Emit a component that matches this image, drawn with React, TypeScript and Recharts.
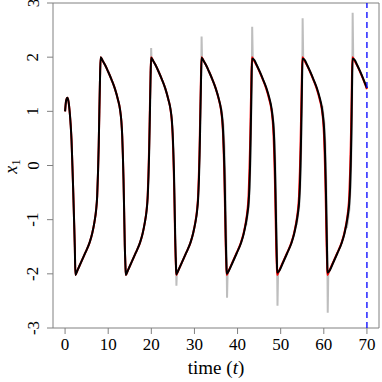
import React from "react";
import {
  ComposedChart,
  Line,
  XAxis,
  YAxis,
  Label,
  ReferenceArea,
  ReferenceLine,
} from "recharts";

// time grid (shared by the true path and the filter mean)
const time = [
  // start-up
  0, 0.25, 0.55, 0.8, 1.1, 1.3, 1.5, 1.7, 1.9, 2.1, 2.26, 2.4,
  // rise 1
  2.9, 3.7, 4.7, 5.7, 6.3, 6.8, 7.2, 7.45, 7.65, 7.8, 7.95, 8.1, 8.25,
  // fall 1
  8.75, 9.25, 9.95, 10.75, 11.55, 12.25, 12.75, 13.05, 13.25, 13.4, 13.55, 13.7, 13.85, 14.0, 14.1,
  // rise 2
  14.6, 15.4, 16.4, 17.4, 18.0, 18.5, 18.9, 19.15, 19.35, 19.5, 19.65, 19.8, 19.95,
  // fall 2
  20.45, 20.95, 21.65, 22.45, 23.25, 23.95, 24.45, 24.75, 24.95, 25.1, 25.25, 25.4, 25.55, 25.7, 25.8,
  // rise 3
  26.3, 27.1, 28.1, 29.1, 29.7, 30.2, 30.6, 30.85, 31.05, 31.2, 31.35, 31.5, 31.65,
  // fall 3
  32.15, 32.65, 33.35, 34.15, 34.95, 35.65, 36.15, 36.45, 36.65, 36.8, 36.95, 37.1, 37.25, 37.4, 37.5,
  // rise 4
  38.0, 38.8, 39.8, 40.8, 41.4, 41.9, 42.3, 42.55, 42.75, 42.9, 43.05, 43.2, 43.35,
  // fall 4
  43.85, 44.35, 45.05, 45.85, 46.65, 47.35, 47.85, 48.15, 48.35, 48.5, 48.65, 48.8, 48.95, 49.1, 49.2,
  // rise 5
  49.7, 50.5, 51.5, 52.5, 53.1, 53.6, 54.0, 54.25, 54.45, 54.6, 54.75, 54.9, 55.05,
  // fall 5
  55.55, 56.05, 56.75, 57.55, 58.35, 59.05, 59.55, 59.85, 60.05, 60.2, 60.35, 60.5, 60.65, 60.78, 60.85,
  // rise 6
  61.35, 62.15, 63.15, 64.15, 64.75, 65.25, 65.65, 65.9, 66.1, 66.25, 66.4, 66.52, 66.65,
  // last fall, cut at t = 70
  67.15, 67.65, 68.35, 69.15, 70.0,
];

// true x1 (red)
const truthX1 = [
  1.0, 1.2, 1.25, 1.18, 0.96, 0.75, 0.46, 0.0, -0.5, -1.05, -1.51, -2.02,
  -1.93, -1.79, -1.61, -1.42, -1.25, -1.05, -0.82, -0.56, -0.1, 0.37, 1.0, 1.6, 2.0,
  1.93, 1.86, 1.74, 1.59, 1.42, 1.22, 1.03, 0.82, 0.55, 0.2, -0.25, -0.85, -1.48, -1.85, -2.02,
  -1.93, -1.79, -1.61, -1.42, -1.25, -1.05, -0.82, -0.56, -0.1, 0.37, 1.0, 1.6, 2.0,
  1.93, 1.86, 1.74, 1.59, 1.42, 1.22, 1.03, 0.82, 0.55, 0.2, -0.25, -0.85, -1.48, -1.85, -2.02,
  -1.93, -1.79, -1.61, -1.42, -1.25, -1.05, -0.82, -0.56, -0.1, 0.37, 1.0, 1.6, 2.0,
  1.93, 1.86, 1.74, 1.59, 1.42, 1.22, 1.03, 0.82, 0.55, 0.2, -0.25, -0.85, -1.48, -1.85, -2.02,
  -1.93, -1.79, -1.61, -1.42, -1.25, -1.05, -0.82, -0.56, -0.1, 0.37, 1.0, 1.6, 2.0,
  1.93, 1.86, 1.74, 1.59, 1.42, 1.22, 1.03, 0.82, 0.55, 0.2, -0.25, -0.85, -1.48, -1.85, -2.02,
  -1.93, -1.79, -1.61, -1.42, -1.25, -1.05, -0.82, -0.56, -0.1, 0.37, 1.0, 1.6, 2.0,
  1.93, 1.86, 1.74, 1.59, 1.42, 1.22, 1.03, 0.82, 0.55, 0.2, -0.25, -0.85, -1.48, -1.85, -2.02,
  -1.93, -1.79, -1.61, -1.42, -1.25, -1.05, -0.82, -0.56, -0.1, 0.37, 1.0, 1.6, 2.0,
  1.93, 1.86, 1.74, 1.59, 1.41,
];

// filter mean of x1 (black), lags a little later on
const meanX1 = [
  1.0, 1.2, 1.25, 1.18, 0.96, 0.75, 0.46, 0.0, -0.5, -1.05, -1.51, -2.02,
  -1.93, -1.79, -1.61, -1.42, -1.25, -1.05, -0.82, -0.56, -0.1, 0.37, 1.0, 1.6, 2.0,
  1.93, 1.86, 1.74, 1.59, 1.42, 1.22, 1.03, 0.82, 0.55, 0.2, -0.25, -0.85, -1.48, -1.85, -2.02,
  -1.93, -1.79, -1.61, -1.42, -1.25, -1.05, -0.84, -0.6, -0.2, 0.25, 0.85, 1.5, 1.99,
  1.93, 1.86, 1.74, 1.59, 1.42, 1.22, 1.04, 0.85, 0.6, 0.3, -0.1, -0.7, -1.35, -1.8, -2.01,
  -1.93, -1.79, -1.61, -1.42, -1.25, -1.06, -0.85, -0.62, -0.25, 0.2, 0.8, 1.45, 1.99,
  1.93, 1.86, 1.74, 1.59, 1.42, 1.23, 1.05, 0.86, 0.63, 0.33, -0.05, -0.65, -1.3, -1.78, -2.0,
  -1.94, -1.8, -1.62, -1.43, -1.27, -1.08, -0.88, -0.7, -0.4, 0.0, 0.6, 1.3, 1.97,
  1.95, 1.87, 1.75, 1.6, 1.44, 1.25, 1.07, 0.88, 0.7, 0.45, 0.05, -0.5, -1.15, -1.7, -1.98,
  -1.94, -1.8, -1.62, -1.43, -1.27, -1.08, -0.88, -0.7, -0.4, 0.0, 0.6, 1.3, 1.97,
  1.95, 1.87, 1.75, 1.6, 1.44, 1.25, 1.07, 0.88, 0.7, 0.45, 0.05, -0.5, -1.15, -1.7, -1.98,
  -1.94, -1.8, -1.62, -1.43, -1.27, -1.08, -0.88, -0.7, -0.4, 0.0, 0.6, 1.3, 1.97,
  1.95, 1.87, 1.75, 1.6, 1.43,
];

// ensemble members that stray from the mean (gray), null = gap
const ensembleTime = [
  19.88, 19.96, 20.06, 20.1,
  25.74, 25.82, 25.92, 26.0,
  31.58, 31.66, 31.77, 31.85,
  36.25, 36.7, 36.95, 37.15, 37.33, 37.47, 37.56, 37.7, 37.8,
  42.0, 42.6, 42.85, 43.05, 43.22, 43.33, 43.39, 43.53, 43.6,
  47.95, 48.4, 48.65, 48.85, 49.03, 49.17, 49.26, 49.4, 49.5,
  53.7, 54.3, 54.55, 54.75, 54.92, 55.03, 55.09, 55.23, 55.3,
  59.65, 60.1, 60.35, 60.55, 60.72, 60.83, 60.91, 61.05, 61.1,
  65.35, 65.95, 66.2, 66.4, 66.55, 66.63, 66.69, 66.83,
];
const ensembleX1 = [
  1.7, 2.17, 1.95, null,
  -1.7, -2.22, -1.97, null,
  1.65, 2.38, 1.95, null,
  1.05, 0.75, 0.35, -0.3, -1.1, -1.75, -2.44, -1.95, null,
  -1.1, -0.75, -0.35, 0.3, 1.2, 1.8, 2.56, 1.95, null,
  1.05, 0.75, 0.35, -0.3, -1.1, -1.75, -2.59, -1.95, null,
  -1.1, -0.75, -0.35, 0.3, 1.2, 1.8, 2.72, 1.95, null,
  1.1, 0.8, 0.4, -0.25, -1.05, -1.7, -2.72, -1.95, null,
  -1.15, -0.8, -0.4, 0.25, 1.15, 1.75, 2.82, 1.94,
];

const xTicks = [0, 10, 20, 30, 40, 50, 60, 70];
const yTicks = [-3, -2, -1, 0, 1, 2, 3];

const rows = time.map((t, i) => ({ t, truth: truthX1[i], mean: meanX1[i] }));
const ensembleRows = ensembleTime.map((t, i) => ({ t, g: ensembleX1[i] }));

const FONT = "'Liberation Serif', 'DejaVu Serif', serif";
const FRAME = "#808080";

function XTick(props: any) {
  const { x, y, payload } = props;
  return (
    <text x={x} y={y + 14} textAnchor="middle" fontFamily={FONT} fontSize={17} fill="#000">
      {payload.value}
    </text>
  );
}

function YTick(props: any) {
  const { x, y, payload } = props;
  const bx = x - 6.5;
  return (
    <text
      x={bx}
      y={y}
      transform={`rotate(-90, ${bx}, ${y})`}
      textAnchor="middle"
      fontFamily={FONT}
      fontSize={17}
      fill="#000"
    >
      {payload.value}
    </text>
  );
}

function XTitle(props: any) {
  const vb = props.viewBox;
  return (
    <text x={vb.x + vb.width / 2} y={vb.y + 46} textAnchor="middle" fontFamily={FONT} fontSize={19} fill="#000">
      time (<tspan fontStyle="italic">t</tspan>)
    </text>
  );
}

function YTitle(props: any) {
  const vb = props.viewBox;
  const cy = vb.y + vb.height / 2 + 1;
  return (
    <text x={17} y={cy} transform={`rotate(-90, 17, ${cy})`} textAnchor="middle" fontFamily={FONT} fontSize={18} fill="#000">
      <tspan fontStyle="italic">x</tspan>
      <tspan fontSize={13} dy={3}>1</tspan>
    </text>
  );
}

export default function App() {
  return (
    <div style={{ position: "absolute", left: 0, top: 0, width: 382, height: 382, background: "#fff" }}>
      <ComposedChart width={382} height={382} data={rows} margin={{ top: 3, right: 3, left: 0, bottom: 0 }}>
        <XAxis
          dataKey="t"
          type="number"
          domain={[-2.8, 72.8]}
          ticks={xTicks}
          interval={0}
          allowDataOverflow
          height={54}
          tickSize={6}
          axisLine={false}
          tickLine={{ stroke: FRAME }}
          tick={<XTick />}
        >
          <Label content={XTitle} />
        </XAxis>
        <YAxis
          type="number"
          domain={[-3, 3]}
          ticks={yTicks}
          interval={0}
          allowDataOverflow
          width={53}
          tickSize={6}
          axisLine={false}
          tickLine={{ stroke: FRAME }}
          tick={<YTick />}
        >
          <Label content={YTitle} />
        </YAxis>
        <ReferenceArea x1={-2.8} x2={72.8} y1={-3} y2={3} fill="none" fillOpacity={0} stroke={FRAME} strokeWidth={1} />
        <Line
          data={ensembleRows}
          dataKey="g"
          type="linear"
          stroke="#bebebe"
          strokeWidth={2}
          dot={false}
          connectNulls={false}
          isAnimationActive={false}
        />
        <Line dataKey="truth" type="monotone" stroke="#ff0000" strokeWidth={2} dot={false} isAnimationActive={false} />
        <Line dataKey="mean" type="monotone" stroke="#000000" strokeWidth={2} dot={false} isAnimationActive={false} />
        <ReferenceLine x={70} stroke="#0000ff" strokeWidth={1.3} strokeDasharray="6 4" />
      </ComposedChart>
    </div>
  );
}
